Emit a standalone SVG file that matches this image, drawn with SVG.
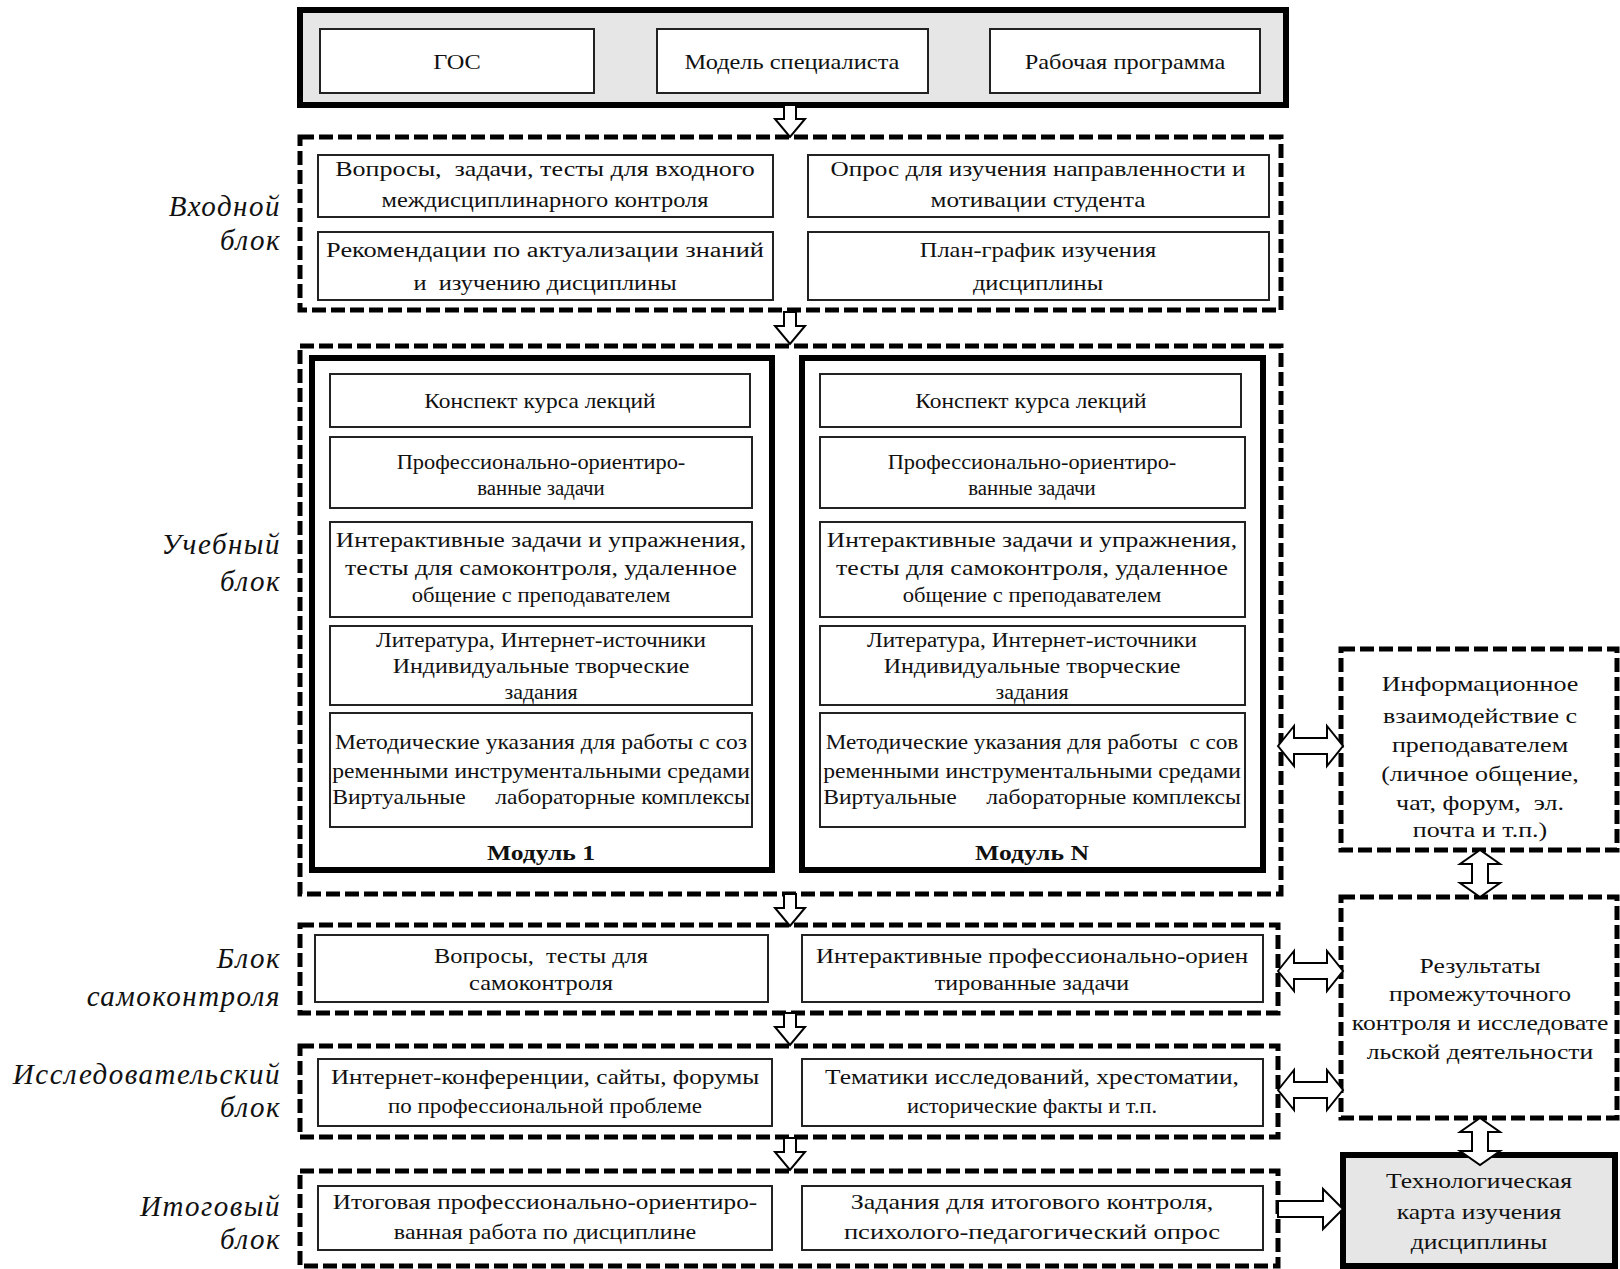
<svg xmlns="http://www.w3.org/2000/svg" width="1620" height="1269" viewBox="0 0 1620 1269" xml:space="preserve">
<defs>
<style>
.t{font-family:"Liberation Serif","Times New Roman",serif;font-size:20px;fill:#111;text-anchor:middle;white-space:pre}
.r{font-size:21px}
.b{font-weight:bold;font-size:21px}
.lab{font-family:"Liberation Serif","Times New Roman",serif;font-size:29px;font-style:italic;fill:#111;text-anchor:end;letter-spacing:1.5px}
.box{fill:#fff;stroke:#222;stroke-width:2}
.thick{fill:#fff;stroke:#000;stroke-width:6}
.gray{fill:#e6e6e6;stroke:#000;stroke-width:6}
.dash{fill:none;stroke:#000;stroke-width:5;stroke-dasharray:14 5}
.arr{fill:#fff;stroke:#000;stroke-width:2;stroke-linejoin:miter}
</style>
<path id="down" d="M-6,0 L6,0 L6,14 L15,14 L0,32 L-15,14 L-6,14 Z"/>
<path id="hdbl" d="M0,0 L16,-20 L16,-8 L49,-8 L49,-20 L65,0 L49,20 L49,8 L16,8 L16,20 Z"/>
<path id="vdbl" d="M0,0 L-20,14 L-8,14 L-8,33 L-20,33 L0,47 L20,33 L8,33 L8,14 L20,14 Z"/>
<path id="hone" d="M0,-8 L45,-8 L45,-20 L65,0 L45,20 L45,8 L0,8 Z"/>
</defs>

<g id="top-block">
<rect class="gray" x="300" y="10" width="986" height="95"/>
<g id="gos"><rect class="box" x="320" y="29" width="274" height="64"/><text class="t" transform="matrix(1.22 0 0 1 457 69)">ГОС</text></g>
<g id="model"><rect class="box" x="657" y="29" width="271" height="64"/><text class="t" transform="matrix(1.22 0 0 1 792 69)">Модель специалиста</text></g>
<g id="program"><rect class="box" x="990" y="29" width="270" height="64"/><text class="t" transform="matrix(1.22 0 0 1 1125 69)">Рабочая программа</text></g>
</g>

<g id="entry-block">
<rect class="dash" x="300" y="137" width="981" height="173"/>
<text class="lab" x="281" y="216">Входной</text>
<text class="lab" x="281" y="250">блок</text>
<g id="entry-1"><rect class="box" x="318" y="155" width="455" height="62"/><text class="t" transform="matrix(1.3 0 0 1 545 176)">Вопросы,  задачи, тесты для входного</text><text class="t" transform="matrix(1.22 0 0 1 545 207)">междисциплинарного контроля</text></g>
<g id="entry-2"><rect class="box" x="808" y="155" width="461" height="62"/><text class="t" transform="matrix(1.26 0 0 1 1038 176)">Опрос для изучения направленности и</text><text class="t" transform="matrix(1.26 0 0 1 1038 207)">мотивации студента</text></g>
<g id="entry-3"><rect class="box" x="318" y="232" width="455" height="68"/><text class="t" transform="matrix(1.32 0 0 1 545 257)">Рекомендации по актуализации знаний</text><text class="t" transform="matrix(1.22 0 0 1 545 290)">и  изучению дисциплины</text></g>
<g id="entry-4"><rect class="box" x="808" y="232" width="461" height="68"/><text class="t" transform="matrix(1.22 0 0 1 1038 257)">План-график изучения</text><text class="t" transform="matrix(1.22 0 0 1 1038 290)">дисциплины</text></g>
</g>

<g id="study-block">
<rect class="dash" x="300" y="346" width="981" height="548"/>
<text class="lab" x="281" y="554">Учебный</text>
<text class="lab" x="281" y="591">блок</text>
<g id="module-1">
<rect class="thick" x="312" y="358" width="460" height="512"/>
<rect class="box" x="330" y="374" width="420" height="53"/><text class="t" transform="matrix(1.17 0 0 1 540 408)">Конспект курса лекций</text>
<rect class="box" x="330" y="437" width="422" height="71"/><text class="t" transform="matrix(1.12 0 0 1 541 469)">Профессионально-ориентиро-</text><text class="t" transform="matrix(1.04 0 0 1 541 495)">ванные задачи</text>
<rect class="box" x="330" y="522" width="422" height="95"/><text class="t" transform="matrix(1.27 0 0 1 541 547)">Интерактивные задачи и упражнения,</text><text class="t" transform="matrix(1.29 0 0 1 541 575)">тесты для самоконтроля, удаленное</text><text class="t" transform="matrix(1.13 0 0 1 541 602)">общение с преподавателем</text>
<rect class="box" x="330" y="626" width="422" height="79"/><text class="t" transform="matrix(1.16 0 0 1 541 647)">Литература, Интернет-источники</text><text class="t" transform="matrix(1.2 0 0 1 541 673)">Индивидуальные творческие</text><text class="t" transform="matrix(1.1 0 0 1 541 699)">задания</text>
<rect class="box" x="330" y="713" width="422" height="114"/><text class="t" transform="matrix(1.18 0 0 1 541 749)">Методические указания для работы с соз</text><text class="t" transform="matrix(1.18 0 0 1 541 778)">ременными инструментальными средами</text><text class="t" transform="matrix(1.18 0 0 1 541 804)">Виртуальные     лабораторные комплексы</text>
<text class="t b" transform="matrix(1.22 0 0 1 541 860)">Модуль 1</text>
</g>
<g id="module-n">
<rect class="thick" x="802" y="358" width="461" height="512"/>
<rect class="box" x="820" y="374" width="421" height="53"/><text class="t" transform="matrix(1.17 0 0 1 1031 408)">Конспект курса лекций</text>
<rect class="box" x="820" y="437" width="425" height="71"/><text class="t" transform="matrix(1.12 0 0 1 1032 469)">Профессионально-ориентиро-</text><text class="t" transform="matrix(1.04 0 0 1 1032 495)">ванные задачи</text>
<rect class="box" x="820" y="522" width="425" height="95"/><text class="t" transform="matrix(1.27 0 0 1 1032 547)">Интерактивные задачи и упражнения,</text><text class="t" transform="matrix(1.29 0 0 1 1032 575)">тесты для самоконтроля, удаленное</text><text class="t" transform="matrix(1.13 0 0 1 1032 602)">общение с преподавателем</text>
<rect class="box" x="820" y="626" width="425" height="79"/><text class="t" transform="matrix(1.16 0 0 1 1032 647)">Литература, Интернет-источники</text><text class="t" transform="matrix(1.2 0 0 1 1032 673)">Индивидуальные творческие</text><text class="t" transform="matrix(1.1 0 0 1 1032 699)">задания</text>
<rect class="box" x="820" y="713" width="425" height="114"/><text class="t" transform="matrix(1.16 0 0 1 1032 749)">Методические указания для работы  с сов</text><text class="t" transform="matrix(1.18 0 0 1 1032 778)">ременными инструментальными средами</text><text class="t" transform="matrix(1.18 0 0 1 1032 804)">Виртуальные     лабораторные комплексы</text>
<text class="t b" transform="matrix(1.22 0 0 1 1032 860)">Модуль N</text>
</g>
</g>

<g id="selfcheck-block">
<rect class="dash" x="300" y="925" width="978" height="88"/>
<text class="lab" x="281" y="968">Блок</text>
<text class="lab" x="281" y="1006">самоконтроля</text>
<g id="self-1"><rect class="box" x="315" y="935" width="453" height="67"/><text class="t" transform="matrix(1.22 0 0 1 541 963)">Вопросы,  тесты для</text><text class="t" transform="matrix(1.22 0 0 1 541 990)">самоконтроля</text></g>
<g id="self-2"><rect class="box" x="802" y="935" width="461" height="67"/><text class="t" transform="matrix(1.25 0 0 1 1032 963)">Интерактивные профессионально-ориен</text><text class="t" transform="matrix(1.2 0 0 1 1032 990)">тированные задачи</text></g>
</g>

<g id="research-block">
<rect class="dash" x="300" y="1046" width="978" height="91"/>
<text class="lab" x="281" y="1084">Исследовательский</text>
<text class="lab" x="281" y="1117">блок</text>
<g id="res-1"><rect class="box" x="318" y="1059" width="454" height="67"/><text class="t" transform="matrix(1.26 0 0 1 545 1084)">Интернет-конференции, сайты, форумы</text><text class="t" transform="matrix(1.15 0 0 1 545 1113)">по профессиональной проблеме</text></g>
<g id="res-2"><rect class="box" x="802" y="1059" width="461" height="67"/><text class="t" transform="matrix(1.27 0 0 1 1032 1084)">Тематики исследований, хрестоматии,</text><text class="t" transform="matrix(1.12 0 0 1 1032 1113)">исторические факты и т.п.</text></g>
</g>

<g id="final-block">
<rect class="dash" x="300" y="1171" width="978" height="95"/>
<text class="lab" x="281" y="1216">Итоговый</text>
<text class="lab" x="281" y="1249">блок</text>
<g id="fin-1"><rect class="box" x="318" y="1186" width="454" height="64"/><text class="t" transform="matrix(1.26 0 0 1 545 1209)">Итоговая профессионально-ориентиро-</text><text class="t" transform="matrix(1.2 0 0 1 545 1239)">ванная работа по дисциплине</text></g>
<g id="fin-2"><rect class="box" x="802" y="1186" width="461" height="64"/><text class="t" transform="matrix(1.3 0 0 1 1032 1209)">Задания для итогового контроля,</text><text class="t" transform="matrix(1.33 0 0 1 1032 1239)">психолого-педагогический опрос</text></g>
</g>

<g id="info">
<rect class="dash" x="1341" y="649" width="276" height="201"/>
<text class="t r" transform="matrix(1.24 0 0 1 1480 691)">Информационное</text>
<text class="t r" transform="matrix(1.24 0 0 1 1480 723)">взаимодействие с</text>
<text class="t r" transform="matrix(1.24 0 0 1 1480 752)">преподавателем</text>
<text class="t r" transform="matrix(1.24 0 0 1 1480 781)">(личное общение,</text>
<text class="t r" transform="matrix(1.24 0 0 1 1480 810)">чат, форум,  эл.</text>
<text class="t r" transform="matrix(1.24 0 0 1 1480 837)">почта и т.п.)</text>
</g>

<g id="results">
<rect class="dash" x="1341" y="897" width="276" height="221"/>
<text class="t r" transform="matrix(1.22 0 0 1 1480 973)">Результаты</text>
<text class="t r" transform="matrix(1.22 0 0 1 1480 1001)">промежуточного</text>
<text class="t r" transform="matrix(1.22 0 0 1 1480 1030)">контроля и исследовате</text>
<text class="t r" transform="matrix(1.22 0 0 1 1480 1059)">льской деятельности</text>
</g>

<g id="techmap">
<rect class="gray" x="1343" y="1155" width="272" height="111"/>
<text class="t r" transform="matrix(1.22 0 0 1 1479 1188)">Технологическая</text>
<text class="t r" transform="matrix(1.22 0 0 1 1479 1219)">карта изучения</text>
<text class="t r" transform="matrix(1.22 0 0 1 1479 1249)">дисциплины</text>
</g>

<g id="connectors">
<use href="#down" class="arr" x="790" y="105"/>
<use href="#down" class="arr" x="790" y="312"/>
<use href="#down" class="arr" x="790" y="894"/>
<use href="#down" class="arr" x="790" y="1013"/>
<use href="#down" class="arr" x="790" y="1138"/>
<use href="#hdbl" class="arr" x="1278" y="746"/>
<use href="#hdbl" class="arr" x="1278" y="971"/>
<use href="#hdbl" class="arr" x="1278" y="1090"/>
<use href="#hone" class="arr" x="1278" y="1209"/>
<use href="#vdbl" class="arr" x="1480" y="850"/>
<use href="#vdbl" class="arr" x="1480" y="1118"/>
</g>
</svg>
